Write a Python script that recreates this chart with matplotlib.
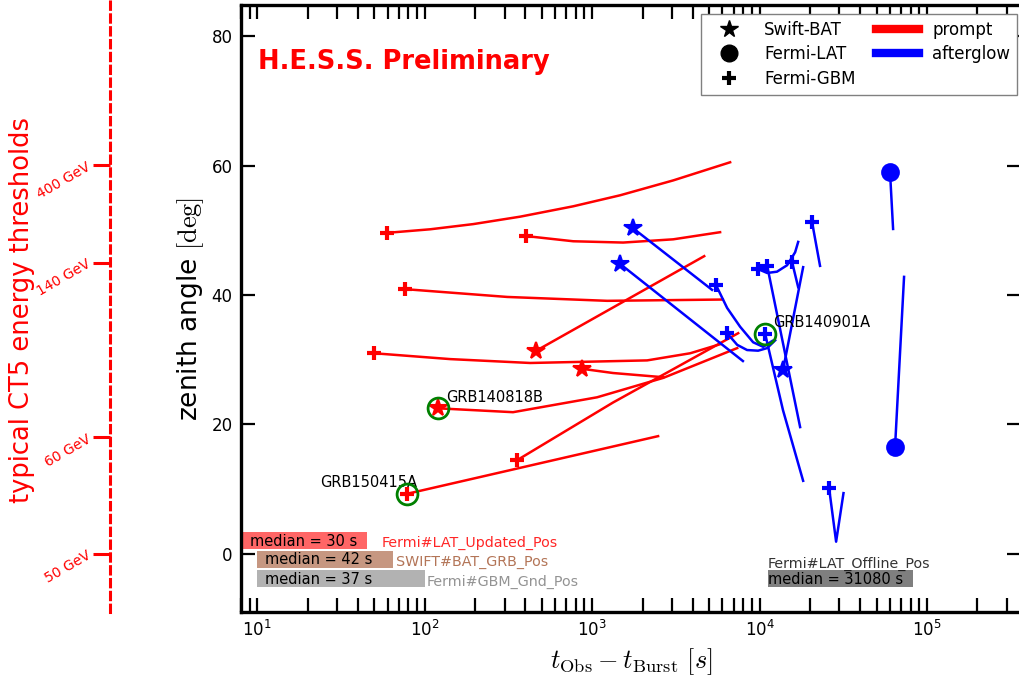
import matplotlib
matplotlib.use("Agg")
import matplotlib.pyplot as plt
from matplotlib.lines import Line2D

# ---- data ----
# prompt tracks (red): (instrument, times [s], zenith [deg])
prompt_tracks = [
    ("GBM", [59.7, 108, 195, 372, 771, 1469, 3050, 6670],
     [49.6, 50.15, 50.95, 52.1, 53.7, 55.4, 57.7, 60.5]),
    ("GBM", [404, 771, 1531, 3050, 5810], [49.1, 48.3, 48.1, 48.6, 49.7]),
    ("GBM", [76.6, 311, 1230, 6030], [40.9, 39.7, 39.1, 39.3]),
    ("GBM", [50, 142, 427, 2130, 3850, 5810], [31.0, 30.1, 29.5, 29.9, 31.0, 32.4]),
    ("BAT", [464, 4670], [31.4, 46.0]),
    ("BAT", [871, 1334, 2660], [28.6, 27.95, 27.3]),
    ("BAT", [120, 337, 1070, 2660, 7350], [22.5, 21.9, 24.2, 27.2, 31.8]),
    ("GBM", [357, 1334, 7450], [14.5, 23.4, 34.1]),
    ("GBM", [78.7, 2477], [9.3, 18.2]),
]

# afterglow tracks (blue)
afterglow_tracks = [
    ("BAT", [1758, 5200], [50.3, 40.8]),
    ("BAT", [1469, 7950], [44.8, 29.8]),
    ("GBM", [5500, 6400, 7650, 9150, 10500, 11900], [41.5, 38.0, 35.1, 32.7, 32.0, 32.9]),
    ("GBM", [6400, 7350, 8420, 9800, 11100, 12390], [34.1, 32.3, 31.5, 31.4, 31.8, 33.0]),
    ("GBM", [10790, 13800, 18200], [34.0, 22.2, 11.3]),
    ("GBM", [9800, 11100, 12700, 14600, 16300, 17000], [44.0, 43.4, 43.6, 44.6, 46.6, 48.2]),
    ("GBM", [11100, 17460], [44.5, 19.6]),
    ("GBM", [15630, 17000], [45.1, 41.2]),
    ("BAT", [13800, 18200], [28.4, 44.3]),
    ("GBM", [20560, 22960], [51.3, 44.5]),
    ("LAT", [60100, 62700], [59.0, 50.2]),
    ("LAT", [64400, 72900], [16.5, 42.8]),
    ("GBM", [26000, 28640, 31700], [10.2, 1.9, 9.4]),
]

# highlighted bursts
grb_names = ["GRB150415A", "GRB140818B", "GRB140901A"]
grb_x = [78.7, 120, 10790]
grb_y = [9.3, 22.5, 34.0]
grb_label_x = [23.8, 134, 12050]
grb_label_y = [11.1, 24.2, 35.8]

# alert latency boxes
median_labels = ["median = 30 s", "median = 42 s", "median = 37 s", "median = 31080 s"]
stream_names = ["Fermi#LAT_Updated_Pos", "SWIFT#BAT_GRB_Pos", "Fermi#GBM_Gnd_Pos",
                "Fermi#LAT_Offline_Pos"]
box_left = [5, 10, 10, 1.12e4]
box_right = [45, 65, 100, 8.3e4]
box_y = [2.08, -0.85, -3.85, -3.85]
median_text_x = [9.1, 11.2, 11.2, 1.13e4]
median_text_y = [2.0, -0.9, -3.9, -4.0]
stream_text_x = [55.7, 67.6, 103, 1.12e4]
stream_text_y = [1.7, -1.2, -4.3, -1.6]

# CT5 thresholds on the left scale
threshold_zenith = [0, 18, 45, 60]
threshold_labels = ["50 GeV", "60 GeV", "140 GeV", "400 GeV"]

# ---- styling ----
markers = {"BAT": "*", "LAT": "o", "GBM": "+"}
msizes = {"BAT": 13, "LAT": 12, "GBM": 10}
box_colors = [("red", 0.6), ("sienna", 0.6), ("gray", 0.6), ("k", 0.5)]
stream_colors = [("red", 0.85), ("sienna", 0.8), ("gray", 0.85), ("k", 0.8)]

W, H = 1020, 679
fig = plt.figure(figsize=(W / 100, H / 100), dpi=100)
ax = fig.add_axes([241 / W, 1 - 612 / H, 780 / W, 607 / H])

for color, tracks in (("red", prompt_tracks), ("blue", afterglow_tracks)):
    for inst, xs, ys in tracks:
        ax.plot(xs, ys, color=color, lw=1.8, zorder=2, solid_joinstyle="round")
        ax.plot(xs[0], ys[0], marker=markers[inst], ms=msizes[inst],
                mew=3 if inst == "GBM" else 1.5, color=color, ls="none", zorder=3)

ax.plot(grb_x, grb_y, "o", ms=15, mfc="none", mec="green", mew=2, zorder=4)
for name, lx, ly in zip(grb_names, grb_label_x, grb_label_y):
    ax.text(lx, ly, name, fontsize=10.5, ha="left", va="center")

for i in range(len(median_labels)):
    c, a = box_colors[i]
    ax.barh(box_y[i], box_right[i] - box_left[i], left=box_left[i], height=2.6,
            color=c, alpha=a, lw=0, zorder=1)
    ax.text(median_text_x[i], median_text_y[i], median_labels[i], fontsize=10.5,
            ha="left", va="center", zorder=5)
    c, a = stream_colors[i]
    ax.text(stream_text_x[i], stream_text_y[i], stream_names[i], fontsize=10.3,
            color=c, alpha=a, ha="left", va="center", zorder=5)

ax.text(0.022, 0.906, "H.E.S.S. Preliminary", transform=ax.transAxes, color="red",
        fontsize=18.5, fontweight="bold", va="center")

ax.set_xscale("log")
ax.set_xlim(8, 3.64e5)
ax.set_ylim(-8.96, 84.79)
ax.set_yticks([0, 20, 40, 60, 80])
ax.tick_params(which="both", direction="in", top=True, right=True, length=10, width=1.6,
               labelsize=12, pad=6)
for s in ax.spines.values():
    s.set_linewidth(2.4)

ax.set_xlabel(r"$t_{\rm Obs} - t_{\rm Burst}\ [s]$", fontsize=19, math_fontfamily="cm")
ax.set_ylabel(r"zenith angle $[\rm deg]$", fontsize=19, math_fontfamily="cm")

handles = [
    Line2D([], [], marker="*", color="k", ls="none", ms=13),
    Line2D([], [], marker="o", color="k", ls="none", ms=12),
    Line2D([], [], marker="+", color="k", ls="none", ms=10, mew=3),
    Line2D([], [], color="red", lw=6),
    Line2D([], [], color="blue", lw=6),
]
leg = ax.legend(handles, ["Swift-BAT", "Fermi-LAT", "Fermi-GBM", "prompt", "afterglow"],
                ncol=2, loc="upper right", bbox_to_anchor=((1017 - 241) / 780, 1 - 9 / 607),
                borderaxespad=0, fontsize=12, fancybox=False, framealpha=1,
                edgecolor="gray", handlelength=2.6, columnspacing=1.2, labelspacing=0.4)
leg.get_frame().set_linewidth(1.0)

# left scale with CT5 thresholds
ax2 = fig.add_axes([110 / W, 1 - 612 / H, 0.0001, 612 / H])
ax2.set_ylim(-8.96, -8.96 + 612 / 6.475)
ax2.patch.set_visible(False)
ax2.set_xticks([])
for k in ("right", "top", "bottom"):
    ax2.spines[k].set_visible(False)
ax2.spines["left"].set_color("red")
ax2.spines["left"].set_linewidth(2.2)
ax2.spines["left"].set_linestyle((0, (2.4, 1.8)))
ax2.set_yticks(threshold_zenith)
ax2.set_yticklabels(threshold_labels, rotation=30)
ax2.tick_params(axis="y", direction="out", length=12, width=2.2, color="red",
                labelcolor="red", labelsize=10, pad=0)
fig.text(22 / W, 1 - 310 / H, "typical CT5 energy thresholds", rotation=90, color="red",
         fontsize=18.5, ha="center", va="center")

fig.savefig("out.png", dpi=100)
